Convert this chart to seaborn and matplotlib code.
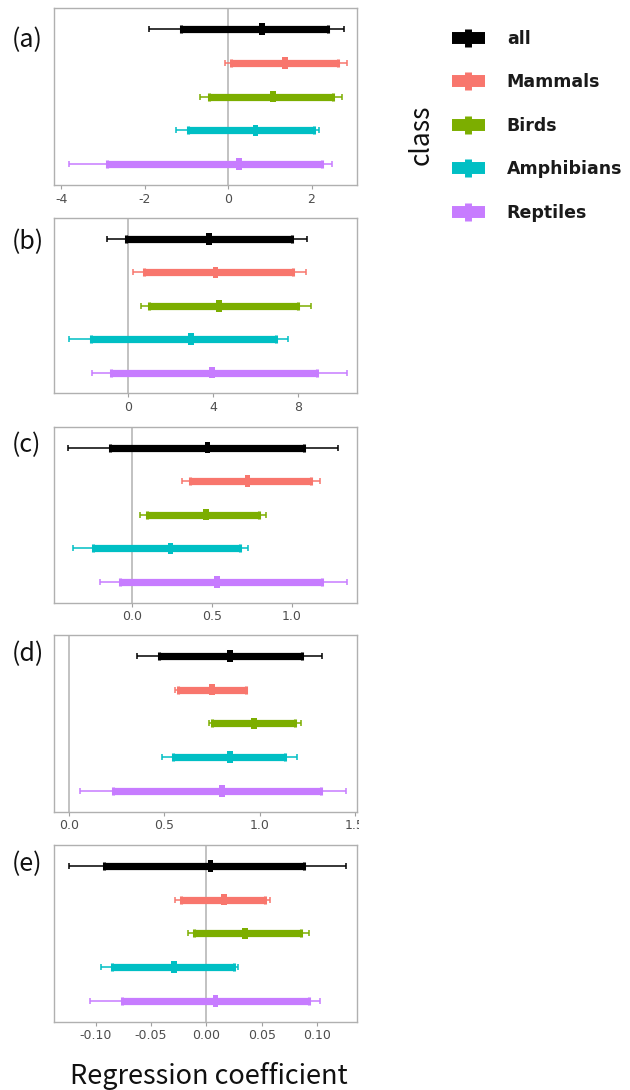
import numpy as np
import pandas as pd
import seaborn as sns
import matplotlib.pyplot as plt
from matplotlib.lines import Line2D
from matplotlib.transforms import Bbox

# ---------------- data ----------------
classes = ['all', 'Mammals', 'Birds', 'Amphibians', 'Reptiles']
colors = ['#000000', '#F8766D', '#7CAE00', '#00BFC4', '#C77CFF']
panel_labels = ['(a)', '(b)', '(c)', '(d)', '(e)']

# panel (a)
a_lo = [-1.90, -0.07, -0.66, -1.24, -3.82]
a_lo50 = [-1.12, 0.06, -0.46, -0.96, -2.90]
a_mid = [0.82, 1.36, 1.08, 0.66, 0.26]
a_hi50 = [2.40, 2.64, 2.52, 2.06, 2.26]
a_hi = [2.78, 2.84, 2.74, 2.18, 2.48]

# panel (b)
b_lo = [-0.97, 0.24, 0.63, -2.79, -1.68]
b_lo50 = [-0.08, 0.74, 0.97, -1.76, -0.82]
b_mid = [3.80, 4.11, 4.27, 2.95, 3.95]
b_hi50 = [7.69, 7.76, 7.97, 6.93, 8.89]
b_hi = [8.42, 8.35, 8.58, 7.51, 10.27]

# panel (c)
c_lo = [-0.40, 0.31, 0.048, -0.37, -0.20]
c_lo50 = [-0.136, 0.36, 0.096, -0.245, -0.077]
c_mid = [0.473, 0.724, 0.462, 0.24, 0.533]
c_hi50 = [1.08, 1.12, 0.795, 0.676, 1.19]
c_hi = [1.29, 1.18, 0.837, 0.724, 1.345]

# panel (d)
d_lo = [0.36, 0.556, 0.734, 0.49, 0.058]
d_lo50 = [0.472, 0.57, 0.748, 0.547, 0.232]
d_mid = [0.845, 0.752, 0.97, 0.845, 0.804]
d_hi50 = [1.224, 0.927, 1.185, 1.133, 1.32]
d_hi = [1.325, 0.932, 1.217, 1.198, 1.453]

# panel (e)
e_lo = [-0.1244, -0.028, -0.0166, -0.0955, -0.1054]
e_lo50 = [-0.0925, -0.023, -0.0114, -0.085, -0.076]
e_mid = [0.0036, 0.0157, 0.0346, -0.0295, 0.0081]
e_hi50 = [0.088, 0.0527, 0.085, 0.025, 0.0928]
e_hi = [0.126, 0.057, 0.0928, 0.0286, 0.103]

a_ticks = [-4, -2, 0, 2]
b_ticks = [0, 4, 8]
c_ticks = [0.0, 0.5, 1.0]
d_ticks = [0.0, 0.5, 1.0, 1.5]
e_ticks = [-0.10, -0.05, 0.00, 0.05, 0.10]
a_ticklabels = ['-4', '-2', '0', '2']
b_ticklabels = ['0', '4', '8']
c_ticklabels = ['0.0', '0.5', '1.0']
d_ticklabels = ['0.0', '0.5', '1.0', '1.5']
e_ticklabels = ['-0.10', '-0.05', '0.00', '0.05', '0.10']

xlabel = 'Regression coefficient'
legend_title = 'class'

# ---------------- layout ----------------
sns.set_theme(style='white')
plt.rcParams['font.family'] = ['DejaVu Sans']
JP = ['Noto Sans CJK JP', 'DejaVu Sans']

W, H = 630, 1090
fig = plt.figure(figsize=(W / 100, H / 100), dpi=100)

panels = [
    (a_lo, a_lo50, a_mid, a_hi50, a_hi, a_ticks, a_ticklabels, (-4.17, 3.09)),
    (b_lo, b_lo50, b_mid, b_hi50, b_hi, b_ticks, b_ticklabels, (-3.48, 10.76)),
    (c_lo, c_lo50, c_mid, c_hi50, c_hi, c_ticks, c_ticklabels, (-0.49, 1.41)),
    (d_lo, d_lo50, d_mid, d_hi50, d_hi, d_ticks, d_ticklabels, (-0.077, 1.51)),
    (e_lo, e_lo50, e_mid, e_hi50, e_hi, e_ticks, e_ticklabels, (-0.1377, 0.136)),
]
boxes_px = [(8.3, 185.0), (218.3, 393.3), (426.7, 602.7), (635.0, 811.7), (845.0, 1021.7)]
label_y_px = [40, 242, 445, 654, 864]
left_px, right_px = 54.0, 357.0

pal = dict(zip(classes, colors))
rect_marker = [(-0.25, -0.5), (0.25, -0.5), (0.25, 0.5), (-0.25, 0.5), (-0.25, -0.5)]

for k, (lo, lo50, mid, hi50, hi, ticks, tlabels, xlim) in enumerate(panels):
    top, bot = boxes_px[k]
    ax = fig.add_axes([left_px / W, 1 - bot / H, (right_px - left_px) / W, (bot - top) / H])
    df = pd.DataFrame({'class': classes, 'pos': np.arange(len(classes)),
                       'lo': lo, 'lo50': lo50, 'mid': mid, 'hi50': hi50, 'hi': hi})
    ax.axvline(0, color='#BDBDBD', lw=1.3, zorder=1)
    for _, r in df.iterrows():
        col = pal[r['class']]
        ax.errorbar(r['mid'], r['pos'], xerr=[[r['mid'] - r['lo']], [r['hi'] - r['mid']]],
                    fmt='none', ecolor=col, elinewidth=1.1, capsize=2.4, capthick=1.1, zorder=2)
        ax.errorbar(r['mid'], r['pos'], xerr=[[r['mid'] - r['lo50']], [r['hi50'] - r['mid']]],
                    fmt='none', ecolor=col, elinewidth=5.2, capsize=3.1, capthick=2.2, zorder=3)
    sns.scatterplot(data=df, x='mid', y='pos', hue='class', palette=pal, marker=rect_marker,
                    s=68, linewidth=0, legend=False, ax=ax, zorder=5)
    ax.set_xlim(*xlim)
    ax.set_ylim(4.62, -0.62)
    ax.set_yticks([])
    ax.set_xticks(ticks)
    ax.set_xticklabels(tlabels)
    ax.set_xlabel('')
    ax.set_ylabel('')
    ax.tick_params(axis='x', bottom=True, length=3, width=0.8, color='#A0A0A0',
                   labelsize=9, labelcolor='#4D4D4D', pad=2.5)
    for s in ax.spines.values():
        s.set_color('#B0B0B0')
        s.set_linewidth(1.0)
    for lab in ax.get_xticklabels():
        lab.set_clip_box(Bbox([[0, 0], [359, H]]))
        lab.set_clip_on(True)
    fig.text(12 / W, 1 - label_y_px[k] / H, panel_labels[k], fontsize=18,
             family=JP, va='center', ha='left', color='#111111')

fig.text(209 / W, 1 - 1076 / H, xlabel, fontsize=19.5, family=JP,
         ha='center', va='center', color='#111111')

handles = [Line2D([], [], color=c, lw=8.6, marker='|', ms=13, mew=5, solid_capstyle='butt')
           for c in colors]
fig.legend(handles, classes, loc='upper left', bbox_to_anchor=(452 / W, 1 - 30 / H),
           frameon=False, prop={'family': 'DejaVu Sans', 'size': 12.5, 'weight': 'bold'},
           labelcolor='#1A1A1A',
           handlelength=1.9, labelspacing=1.465, handletextpad=1.26, borderaxespad=0, borderpad=0)
fig.text(421 / W, 1 - 135 / H, legend_title, rotation=90, fontsize=19,
         family=JP, ha='center', va='center', color='#111111')

fig.savefig('out.png', dpi=100)
